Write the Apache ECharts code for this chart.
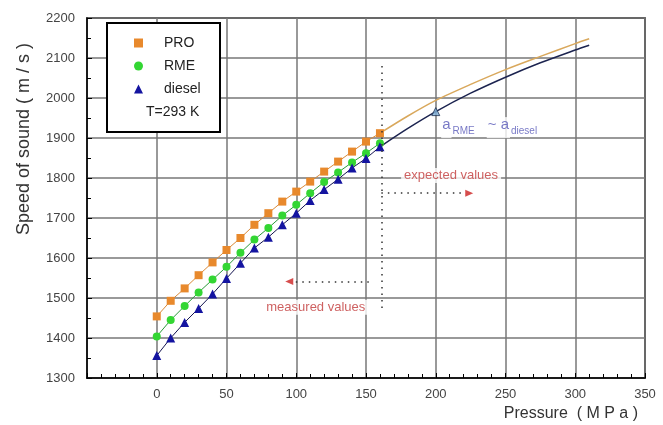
<!DOCTYPE html>
<html lang="en" style="height: 100%">
<head>
  <meta charset="utf-8">
</head>
<body style="height: 100%; margin: 0; background: #fff">
  <div id="container" style="width: 663px; height: 425px"></div>
  <script type="text/javascript" src="https://cdn.jsdelivr.net/npm/echarts@6/dist/echarts.min.js"></script>
  <script type="text/javascript">
    // measured points (MPa -> m/s)
    var pressure = [0, 10, 20, 30, 40, 50, 60, 70, 80, 90, 100, 110, 120, 130, 140, 150, 160];
    var proSpeed = [1454, 1493, 1524, 1557, 1589, 1620, 1650, 1683, 1712, 1741, 1766, 1791, 1816, 1841, 1866, 1891, 1912];
    var rmeSpeed = [1404, 1445, 1480, 1514, 1546, 1578, 1613, 1646, 1675, 1706, 1733, 1762, 1790, 1814, 1839, 1862, 1887];
    var dieselSpeed = [1356, 1400, 1439, 1474, 1510, 1549, 1587, 1625, 1652, 1683, 1712, 1744, 1771, 1797, 1825, 1849, 1878];

    // extrapolated curves beyond 160 MPa
    var extraPressure = [160, 180, 200, 225, 250, 275, 300, 310];
    var proExtra = [1912, 1955, 1994, 2034, 2071, 2104, 2136, 2148];
    var dieselExtra = [1878, 1924, 1966, 2012, 2052, 2088, 2120, 2132];
    var rmeAt200 = [[200, 1966]];

    // annotations
    var guideLines = [
      [[161, 2080], [161, 1470]],
      [[161, 1762], [221, 1762]],
      [[152, 1541], [98, 1541]]
    ];
    var arrowHeads = [[224, 1762, -90], [95, 1541, 90]];
    var notes = [
      [211, 1806, 'expected values'],
      [114, 1477, 'measured values']
    ];
    var approxNote = [239, 1926];

    var font = 'Liberation Sans, Arial, sans-serif';

    function pairs(xs, ys) {
      return xs.map(function (x, i) { return [x, ys[i]]; });
    }

    var dom = document.getElementById('container');
    var myChart = echarts.init(dom, null, { renderer: 'canvas' });

    var option = {
      animation: false,
      backgroundColor: '#fff',
      grid: {
        left: 87, right: 18, top: 18, bottom: 47,
        show: true, borderColor: '#000', borderWidth: 1.5, backgroundColor: 'transparent'
      },
      legend: {
        data: [
          { name: 'PRO', icon: 'rect' },
          { name: 'RME', icon: 'circle' },
          { name: 'diesel', icon: 'triangle' }
        ],
        orient: 'vertical',
        left: 134, top: 36,
        padding: 0,
        itemWidth: 9, itemHeight: 9, itemGap: 9,
        z: 5,
        textStyle: { fontFamily: font, fontSize: 14, color: '#222', padding: [0, 0, 0, 16] }
      },
      xAxis: {
        type: 'value', min: -50, max: 350, interval: 50,
        axisLine: { show: true, onZero: false, lineStyle: { color: '#000', width: 1.5 } },
        axisTick: { show: true, inside: true, length: 5, lineStyle: { color: '#000' } },
        minorTick: { show: true, splitNumber: 5, length: 4, lineStyle: { color: '#000' } },
        splitLine: { show: true, lineStyle: { color: '#777', width: 1.5 } },
        axisLabel: {
          margin: 10, color: '#444', fontFamily: font, fontSize: 13,
          formatter: function (v) { return v < 0 ? '' : String(v); }
        }
      },
      yAxis: {
        type: 'value', min: 1300, max: 2200, interval: 100,
        axisLine: { show: true, onZero: false, lineStyle: { color: '#000', width: 1.5 } },
        axisTick: { show: true, inside: true, length: 5, lineStyle: { color: '#000' } },
        minorTick: { show: true, splitNumber: 2, length: 4, lineStyle: { color: '#000' } },
        splitLine: { show: true, lineStyle: { color: '#777', width: 1.5 } },
        axisLabel: {
          margin: 12, color: '#444', fontFamily: font, fontSize: 13,
          formatter: function (v) { return String(v); }
        }
      },
      graphic: [
        {
          type: 'rect', left: 106, top: 22, z: 4,
          shape: { width: 113, height: 109 },
          style: { fill: '#fff', stroke: '#000', lineWidth: 2 }
        },
        {
          type: 'text', left: 146, top: 105, z: 5,
          style: { text: 'T=293 K', font: '14px ' + font, fill: '#222' }
        },
        {
          type: 'text', x: 24, y: 139, rotation: Math.PI / 2, z: 5,
          style: {
            text: 'Speed of sound ( m / s )', font: '18px ' + font, fill: '#333',
            align: 'center', verticalAlign: 'middle'
          }
        },
        {
          type: 'text', x: 638, y: 414, z: 5,
          style: {
            text: 'Pressure  ( M P a )', font: '16px ' + font, fill: '#333',
            align: 'right', verticalAlign: 'middle'
          }
        }
      ],
      series: [
        {
          name: 'PRO extrapolated', type: 'line', smooth: 0.3, symbol: 'none',
          data: pairs(extraPressure, proExtra),
          lineStyle: { color: '#d9a85c', width: 1.5 }, z: 3
        },
        {
          name: 'diesel extrapolated', type: 'line', smooth: 0.3, symbol: 'none',
          data: pairs(extraPressure, dieselExtra),
          lineStyle: { color: '#1c2450', width: 1.5 }, z: 3
        },
        {
          name: 'RME @ 200', type: 'scatter', symbol: 'triangle', symbolSize: 8,
          data: rmeAt200,
          itemStyle: { color: '#7fb0d8', borderColor: '#1c3050', borderWidth: 1 }, z: 4
        },
        {
          name: 'PRO', type: 'line', symbol: 'rect', symbolSize: 8,
          data: pairs(pressure, proSpeed),
          itemStyle: { color: '#e8892c' },
          lineStyle: { color: '#d98a3a', width: 1 }, z: 4
        },
        {
          name: 'RME', type: 'line', symbol: 'circle', symbolSize: 8,
          data: pairs(pressure, rmeSpeed),
          itemStyle: { color: '#33d633' },
          lineStyle: { color: '#2a9a3a', width: 1 }, z: 4
        },
        {
          name: 'diesel', type: 'line', symbol: 'triangle', symbolSize: 9,
          data: pairs(pressure, dieselSpeed),
          itemStyle: { color: '#1414a0' },
          lineStyle: { color: '#141450', width: 1 }, z: 4
        },
        {
          name: 'guides', type: 'line', data: [], z: 3,
          markLine: {
            silent: true, symbol: 'none', animation: false,
            lineStyle: { color: '#333', width: 1.5, type: [1.5, 5] },
            label: { show: false },
            data: guideLines.map(function (g) {
              return [{ coord: g[0] }, { coord: g[1] }];
            })
          }
        },
        {
          name: 'arrows', type: 'scatter', symbol: 'triangle', symbolSize: [7, 8],
          data: arrowHeads.map(function (a) {
            return { value: [a[0], a[1]], symbolRotate: a[2] };
          }),
          itemStyle: { color: '#cc2020' }, z: 4
        },
        {
          name: 'notes', type: 'scatter', symbolSize: 0, z: 6,
          data: notes.map(function (n) {
            return { value: [n[0], n[1]], label: { formatter: n[2] } };
          }),
          label: {
            show: true, position: 'inside', color: '#c23a3a', fontFamily: font, fontSize: 13,
            backgroundColor: '#fff', padding: [1, 3]
          }
        },
        {
          name: 'approx', type: 'scatter', symbolSize: 0, z: 6,
          data: [approxNote],
          label: {
            show: true, position: 'inside', fontFamily: font, color: '#5658b8',
            formatter: '{a|a}{s|RME}{g|}{a|~ a}{s|diesel}',
            rich: {
              a: { fontSize: 15, color: '#5658b8', backgroundColor: '#fff', padding: [0, 1, 6, 1] },
              s: { fontSize: 10, color: '#5658b8', backgroundColor: '#fff', padding: [8, 2, 0, 1] },
              g: { width: 10 }
            }
          }
        }
      ]
    };

    myChart.setOption(option);
    window.addEventListener('resize', myChart.resize);
  </script>
</body>
</html>
